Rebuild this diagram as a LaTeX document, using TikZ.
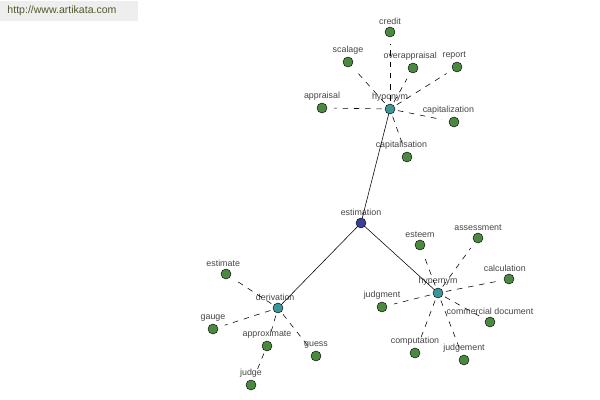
\documentclass[tikz,border=0pt]{standalone}
\usepackage{fontspec}
\setmainfont{Liberation Sans}
\usepackage{xcolor}
\definecolor{wnleaf}{HTML}{4A8A3E}
\definecolor{wnhub}{HTML}{3C9696}
\definecolor{wnroot}{HTML}{3A3F96}
\definecolor{wntext}{HTML}{454545}
\definecolor{wmgrey}{HTML}{EEEEEE}
\definecolor{wmtext}{HTML}{4E5A2C}

\begin{document}
\begin{tikzpicture}[x=0.025cm, y=-0.025cm, font=\fontsize{6.3}{7}\selectfont,
  dot/.style={circle, draw=black, line width=0.3pt, inner sep=0pt, minimum size=0.25cm},
  leaf/.style={dot, fill=wnleaf},
  hub/.style={dot, fill=wnhub},
  root/.style={dot, fill=wnroot},
  lbl/.style={text=wntext, inner sep=0pt, label distance=1.2pt},
  rel/.style={draw=black, line width=0.4pt},
  syn/.style={draw=black, line width=0.4pt, dash pattern=on 4pt off 4pt, shorten <=2pt, shorten >=5pt}]

\useasboundingbox (0,0) rectangle (600,400);

% watermark
\node[fill=wmgrey, minimum width=138*0.025cm, minimum height=20*0.025cm, inner sep=0pt] (mark) at (69,11) {};
\node[text=wmtext, font=\fontsize{7.5}{9}\selectfont] (url) at (62,11) {http://www.artikata.com};

% hubs
\node[root, label={[lbl]above:estimation}] (estimation) at (361,223) {};
\node[hub, label={[lbl]above:hyponym}] (hypo) at (390,109) {};
\node[hub, label={[lbl]above:hypernym}] (hyper) at (438,293) {};
\node[hub, label={[lbl, xshift=-2pt]above:derivation}] (deriv) at (278,308) {};

% hyponym leaves
\node[leaf, label={[lbl]above:credit}] (credit) at (390,32) {};
\node[leaf, label={[lbl]above:scalage}] (scalage) at (348,62) {};
\node[leaf, label={[lbl, xshift=-2pt]above:overappraisal}] (overapp) at (413,68) {};
\node[leaf, label={[lbl, xshift=-2pt]above:report}] (report) at (457,67) {};
\node[leaf, label={[lbl]above:appraisal}] (appraisal) at (322,108) {};
\node[leaf, label={[lbl, xshift=-4pt]above:capitalization}] (capz) at (454,122) {};
\node[leaf, label={[lbl, xshift=-4pt]above:capitalisation}] (caps) at (407,157) {};

% hypernym leaves
\node[leaf, label={[lbl]above:esteem}] (esteem) at (420,245) {};
\node[leaf, label={[lbl]above:assessment}] (assess) at (478,238) {};
\node[leaf, label={[lbl, xshift=-3pt]above:calculation}] (calc) at (509,279) {};
\node[leaf, label={[lbl]above:judgment}] (judgment) at (382,307) {};
\node[leaf, label={[lbl]above:commercial document}] (commdoc) at (490,322) {};
\node[leaf, label={[lbl]above:computation}] (comput) at (415,353) {};
\node[leaf, label={[lbl]above:judgement}] (judgement) at (464,360) {};

% derivation leaves
\node[leaf, label={[lbl, xshift=-2pt]above:estimate}] (estimate) at (226,274) {};
\node[leaf, label={[lbl]above:gauge}] (gauge) at (213,329) {};
\node[leaf, label={[lbl]above:approximate}] (approx) at (267,346) {};
\node[leaf, label={[lbl]above:guess}] (guess) at (316,356) {};
\node[leaf, label={[lbl]above:judge}] (judge) at (251,385) {};

\draw[rel] (estimation) -- (hypo);
\draw[rel] (estimation) -- (hyper);
\draw[rel] (estimation) -- (deriv);

\draw[syn] (hypo) -- (credit);
\draw[syn] (hypo) -- (scalage);
\draw[syn] (hypo) -- (overapp);
\draw[syn] (hypo) -- (report);
\draw[syn] (hypo) -- (appraisal);
\draw[syn] (hypo) -- (capz);
\draw[syn] (hypo) -- (caps);

\draw[syn] (hyper) -- (esteem);
\draw[syn] (hyper) -- (assess);
\draw[syn] (hyper) -- (calc);
\draw[syn] (hyper) -- (judgment);
\draw[syn] (hyper) -- (commdoc);
\draw[syn] (hyper) -- (comput);
\draw[syn] (hyper) -- (judgement);

\draw[syn] (deriv) -- (estimate);
\draw[syn] (deriv) -- (gauge);
\draw[syn] (deriv) -- (approx);
\draw[syn] (deriv) -- (guess);
\draw[syn] (approx) -- (judge);
\end{tikzpicture}
\end{document}
